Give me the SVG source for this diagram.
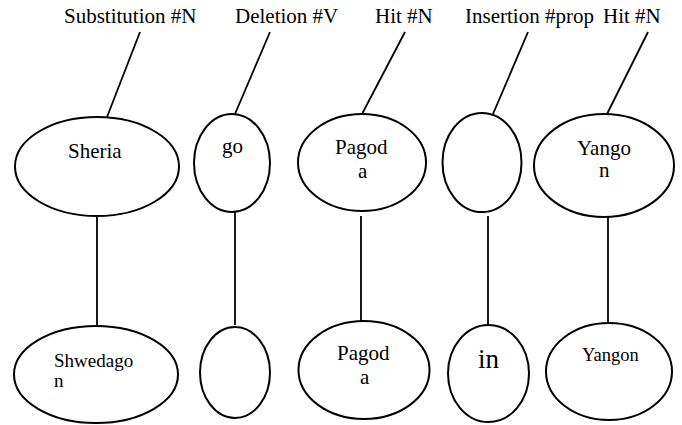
<svg xmlns="http://www.w3.org/2000/svg" width="682" height="425" viewBox="0 0 682 425">
  <style>
    .node ellipse { fill: #ffffff; stroke: #000000; stroke-width: 2; }
    .edges line { stroke: #000000; stroke-width: 1.8; }
    .t { font-family: 'Liberation Serif', 'DejaVu Serif', serif; font-size: 21px; fill: #000000; }
  </style>
  <rect width="682" height="425" fill="#ffffff"/>

  <!-- connectors: tag labels to source words, source words to target words -->
  <g id="connectors" class="edges">
    <line x1="140" y1="32" x2="107" y2="117"/>
    <line x1="270" y1="32" x2="235" y2="114"/>
    <line x1="405" y1="32" x2="362" y2="114"/>
    <line x1="528" y1="32" x2="493" y2="114"/>
    <line x1="648" y1="32" x2="607" y2="114"/>
    <line x1="97" y1="216" x2="97" y2="326"/>
    <line x1="235" y1="212" x2="235" y2="325"/>
    <line x1="361" y1="216" x2="361" y2="328"/>
    <line x1="488" y1="216" x2="488" y2="328"/>
    <line x1="608" y1="208" x2="608" y2="322"/>
  </g>

  <!-- tag labels -->
  <g id="labels" class="t" font-family="Liberation Serif, serif">
    <text x="64" y="23">Substitution #N</text>
    <text x="235" y="23">Deletion #V</text>
    <text x="375" y="23">Hit #N</text>
    <text x="465" y="23">Insertion #prop</text>
    <text x="603" y="23">Hit #N</text>
  </g>

  <!-- upper row -->
  <g id="top-sheria" class="node">
    <ellipse cx="97" cy="166.5" rx="82" ry="49.5"/>
    <text class="t" x="68" y="158">Sheria</text>
  </g>
  <g id="top-go" class="node">
    <ellipse cx="232" cy="163" rx="38" ry="49"/>
    <text class="t" x="222" y="153">go</text>
  </g>
  <g id="top-pagoda" class="node">
    <ellipse cx="362" cy="162.5" rx="64" ry="48.5"/>
    <text class="t" x="335" y="154">Pagod</text>
    <text class="t" x="358" y="178">a</text>
  </g>
  <g id="top-empty" class="node">
    <ellipse cx="482" cy="162.5" rx="39.5" ry="49.5"/>
  </g>
  <g id="top-yangon" class="node">
    <ellipse cx="604" cy="165.5" rx="70" ry="51.5"/>
    <text class="t" x="577" y="155">Yango</text>
    <text class="t" x="599" y="177">n</text>
  </g>

  <!-- lower row -->
  <g id="bottom-shwedagon" class="node">
    <ellipse cx="96" cy="374.5" rx="82" ry="48.5"/>
    <text class="t" x="54" y="367" style="font-size:19px">Shwedago</text>
    <text class="t" x="54" y="387" style="font-size:19px">n</text>
  </g>
  <g id="bottom-empty" class="node">
    <ellipse cx="235" cy="372.5" rx="35" ry="45.5"/>
  </g>
  <g id="bottom-pagoda" class="node">
    <ellipse cx="364" cy="370" rx="65.5" ry="49"/>
    <text class="t" x="337" y="360">Pagod</text>
    <text class="t" x="360" y="384">a</text>
  </g>
  <g id="bottom-in" class="node">
    <ellipse cx="488.5" cy="373.5" rx="40.5" ry="48.5"/>
    <text class="t" x="478" y="368" style="font-size:27px">in</text>
  </g>
  <g id="bottom-yangon" class="node">
    <ellipse cx="609" cy="371.5" rx="63" ry="48.5"/>
    <text class="t" x="582" y="361" style="font-size:18.5px">Yangon</text>
  </g>
</svg>
